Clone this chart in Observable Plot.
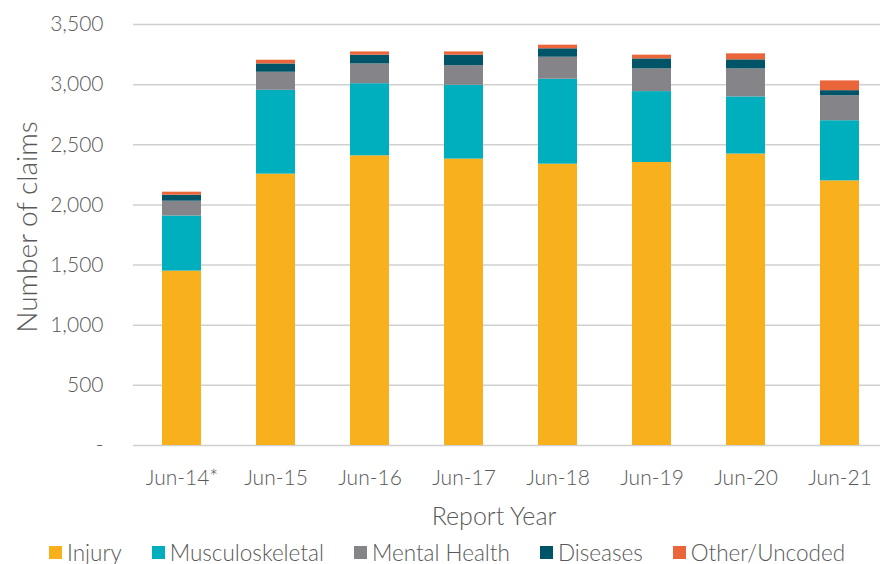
<!DOCTYPE html>
<html>
<head>
<meta charset="utf-8">
<script src="https://cdn.jsdelivr.net/npm/d3@7"></script>
<script src="https://cdn.jsdelivr.net/npm/@observablehq/plot@0.6"></script>
<style>
  html, body { margin: 0; padding: 0; background: #fff; }
  body { width: 880px; height: 564px; overflow: hidden; font-family: Lato, "Open Sans", sans-serif; }
  #legend { display: flex; align-items: center; height: 34px; margin-top: 5px; padding-left: 49px; color: #595959; font-size: 22.5px; font-weight: 300; gap: 30px; }
  #legend .item { display: flex; align-items: center; gap: 5px; }
  #legend .sw { width: 13px; height: 13px; display: inline-block; }
</style>
</head>
<body>
<div id="chart"></div>
<div id="legend"></div>
<script>
// Report years (x categories)
const years = ["Jun-14*", "Jun-15", "Jun-16", "Jun-17", "Jun-18", "Jun-19", "Jun-20", "Jun-21"];

// Claim categories, stacked bottom to top
const categories = ["Injury", "Musculoskeletal", "Mental Health", "Diseases", "Other/Uncoded"];
const colors = ["#F8B11C", "#00AFBE", "#858489", "#005468", "#EA6539"];

// Number of claims per category and report year
const injury          = [1450, 2256, 2408, 2381, 2339, 2353, 2423, 2200];
const musculoskeletal = [ 458,  697,  600,  614,  706,  589,  475,  500];
const mentalHealth    = [ 123,  150,  164,  163,  183,  189,  233,  208];
const diseases        = [  50,   69,   73,   87,   70,   83,   75,   42];
const otherUncoded    = [  25,   31,   27,   27,   30,   31,   50,   81];

const yTicks = [0, 500, 1000, 1500, 2000, 2500, 3000, 3500];

const series = [injury, musculoskeletal, mentalHealth, diseases, otherUncoded];
const rows = [];
years.forEach((year, i) => {
  categories.forEach((cat, j) => {
    rows.push({year, category: cat, claims: series[j][i]});
  });
});

const fmt = d3.format(",");
const textColor = "#595959";

const chart = Plot.plot({
  width: 880,
  height: 530,
  marginTop: 24,
  marginBottom: 85,
  marginLeft: 133,
  marginRight: 0,
  style: {fontFamily: "Lato, 'Open Sans', sans-serif", fontWeight: 300, color: textColor, background: "#fff"},
  x: {domain: years, range: [133, 887], paddingInner: 0.586, paddingOuter: 0.29, label: null},
  y: {domain: [0, 3500], label: null},
  color: {domain: categories, range: colors},
  marks: [
    Plot.gridY(yTicks, {stroke: "#d0d0d0", strokeOpacity: 1, strokeWidth: 1.5}),
    Plot.barY(rows, {x: "year", y: "claims", fill: "category", order: categories}),
    Plot.axisY(yTicks, {
      tickSize: 0, tickPadding: 30, fontSize: 21, fill: textColor, label: null,
      tickFormat: d => d === 0 ? "-" : fmt(d)
    }),
    Plot.axisX({tickSize: 0, tickPadding: 25, fontSize: 21, fill: textColor, label: null}),
    Plot.text(["Number of claims"], {
      frameAnchor: "left", textAnchor: "middle", dx: -105, dy: -8, rotate: -90,
      fontSize: 28, fill: textColor
    }),
    Plot.text(["Report Year"], {
      frameAnchor: "bottom", dy: 79, dx: -13,
      fontSize: 25, fill: textColor
    })
  ]
});
document.getElementById("chart").appendChild(chart);

// Legend built from the same category and colour lists
const legend = document.getElementById("legend");
categories.forEach((cat, i) => {
  const item = document.createElement("span");
  item.className = "item";
  const sw = document.createElement("span");
  sw.className = "sw";
  sw.style.background = colors[i];
  const label = document.createElement("span");
  label.textContent = cat;
  item.appendChild(sw);
  item.appendChild(label);
  legend.appendChild(item);
});
</script>
</body>
</html>
